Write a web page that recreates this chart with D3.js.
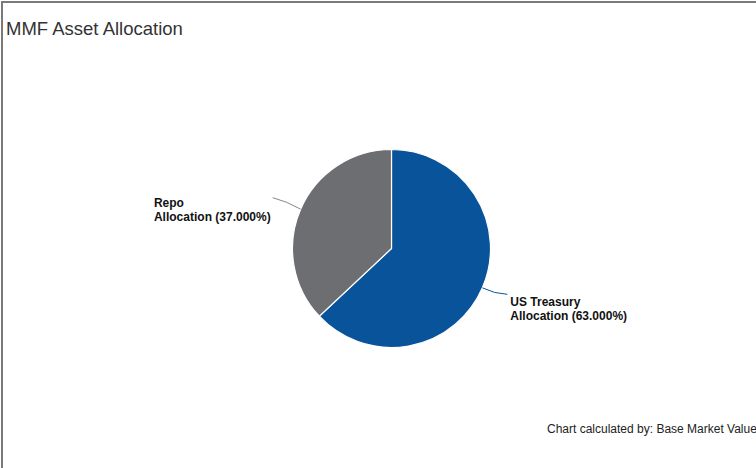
<!DOCTYPE html>
<html>
<head>
<meta charset="utf-8">
<script src="https://cdn.jsdelivr.net/npm/d3@7"></script>
<style>
  html, body { margin: 0; padding: 0; background: #fff; overflow: hidden; }
  svg { display: block; font-family: "Liberation Sans", Arial, sans-serif; }
</style>
</head>
<body>
<svg id="chart" width="756" height="468"></svg>
<script>
const categories = ["US Treasury", "Repo"];
const values = [63.0, 37.0];
const colors = ["#08539a", "#6d6e71"];
const labelLines = [["US Treasury", "Allocation (63.000%)"], ["Repo", "Allocation (37.000%)"]];
const title = "MMF Asset Allocation";
const footer = "Chart calculated by: Base Market Value";

const svg = d3.select("#chart");
const W = 756, H = 468;

// frame (only top/left visible)
svg.append("rect").attr("x", 2).attr("y", 2).attr("width", 900).attr("height", 600)
  .attr("fill", "none").attr("stroke", "#7a7a7a").attr("stroke-width", 2);

svg.append("text").attr("x", 6).attr("y", 35).attr("font-size", 18.5).attr("fill", "#333")
  .text(title);

svg.append("text").attr("x", 547).attr("y", 433).attr("font-size", 12).attr("fill", "#222")
  .text(footer);

const cx = 391.5, cy = 248.5, r = 99;
const data = categories.map((c, i) => ({ cat: c, value: values[i], color: colors[i], lines: labelLines[i] }));
const pie = d3.pie().value(d => d.value).sort(null).startAngle(0).endAngle(2 * Math.PI);
const arcs = pie(data);
const arc = d3.arc().innerRadius(0).outerRadius(r);

const g = svg.append("g").attr("transform", `translate(${cx},${cy})`);
g.selectAll("path.slice").data(arcs).enter().append("path")
  .attr("class", "slice")
  .attr("d", arc)
  .attr("fill", d => d.data.color)
  .attr("stroke", "#fff").attr("stroke-width", 1.2);

// connectors + labels
arcs.forEach(a => {
  const mid = (a.startAngle + a.endAngle) / 2;
  const sx = Math.sin(mid), sy = -Math.cos(mid);
  const p0 = [r * sx, r * sy];
  const right = sx > 0;
  const p2 = [p0[0] + (right ? 25 : -28), p0[1] + (right ? 6.5 : -11.5)];
  const p1 = [p0[0] + (right ? 12 : -14), p0[1] + (right ? 6 : -8)];
  g.append("path")
    .attr("d", `M${p0[0]},${p0[1]} Q${p1[0]},${p1[1]} ${p2[0]},${p2[1]}`)
    .attr("fill", "none")
    .attr("stroke", right ? a.data.color : "#888")
    .attr("stroke-width", 1);
  const t = g.append("text")
    .attr("font-size", 12).attr("font-weight", "bold").attr("fill", "#111")
    .attr("text-anchor", "start");
  const ty = right ? p2[1] + 11.5 : p2[1] + 9.5;
  const spans = a.data.lines.map((ln, i) =>
    t.append("tspan").attr("y", ty + i * 14).text(ln));
  let tx = p2[0] + 3;
  if (!right) {
    const wmax = d3.max(spans, s => s.node().getComputedTextLength());
    tx = p2[0] - 2 - wmax;
  }
  spans.forEach(s => s.attr("x", tx));
});
</script>
</body>
</html>
